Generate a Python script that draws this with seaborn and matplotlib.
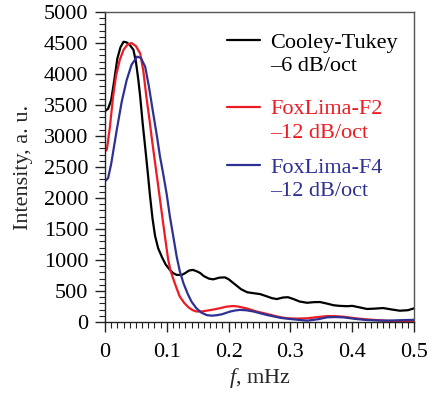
import matplotlib
matplotlib.use("Agg")
import matplotlib.pyplot as plt
import numpy as np
import pandas as pd
import seaborn as sns
from matplotlib.lines import Line2D
from matplotlib.ticker import MultipleLocator, FuncFormatter

# ---- data ----
ct_f = [0.000, 0.005, 0.010, 0.015, 0.020, 0.025, 0.030, 0.035, 0.040, 0.046, 0.050, 0.054,
        0.057, 0.061, 0.065, 0.069, 0.073, 0.077, 0.081, 0.086, 0.092, 0.098, 0.105, 0.110,
        0.116, 0.124, 0.130, 0.136, 0.142, 0.148, 0.154, 0.160, 0.168, 0.175, 0.185, 0.194,
        0.200, 0.210, 0.220, 0.230, 0.240, 0.251, 0.260, 0.270, 0.278, 0.288, 0.296, 0.305,
        0.315, 0.327, 0.338, 0.348, 0.360, 0.370, 0.380, 0.392, 0.400, 0.410, 0.424, 0.435,
        0.450, 0.462, 0.477, 0.490, 0.500]
ct_i = [3400, 3440, 3580, 3900, 4250, 4430, 4520, 4510, 4470, 4390, 4200, 3900,
        3630, 3200, 2820, 2430, 2020, 1660, 1390, 1190, 1050, 930, 840, 790,
        760, 758, 790, 830, 840, 820, 790, 740, 700, 688, 715, 720,
        690, 610, 530, 480, 465, 450, 420, 385, 370, 395, 400, 370,
        330, 310, 320, 322, 295, 270, 260, 255, 260, 240, 210, 215,
        225, 205, 182, 190, 220]

f2_f = [0.000, 0.003, 0.008, 0.013, 0.018, 0.024, 0.030, 0.036, 0.043, 0.050, 0.057, 0.062,
        0.067, 0.072, 0.076, 0.081, 0.086, 0.092, 0.097, 0.102, 0.106, 0.111, 0.116, 0.121,
        0.128, 0.135, 0.142, 0.148, 0.155, 0.165, 0.175, 0.185, 0.195, 0.207, 0.215, 0.229,
        0.245, 0.262, 0.280, 0.294, 0.310, 0.327, 0.345, 0.359, 0.372, 0.386, 0.405, 0.423,
        0.440, 0.456, 0.475, 0.490, 0.500]
f2_i = [2750, 2780, 3150, 3630, 3980, 4230, 4390, 4470, 4500, 4450, 4330, 4050,
        3630, 3260, 2940, 2570, 2200, 1750, 1380, 1020, 830, 680, 540, 410,
        310, 237, 190, 170, 168, 183, 200, 220, 245, 258, 250, 220,
        170, 130, 85, 60, 55, 60, 80, 95, 95, 85, 60, 43,
        30, 20, 10, 3, 0]

f4_f = [0.000, 0.005, 0.010, 0.019, 0.027, 0.035, 0.043, 0.052, 0.058, 0.065, 0.071, 0.078,
        0.084, 0.089, 0.094, 0.100, 0.105, 0.111, 0.116, 0.121, 0.127, 0.134, 0.140, 0.148,
        0.156, 0.165, 0.173, 0.181, 0.189, 0.202, 0.210, 0.218, 0.228, 0.240, 0.262, 0.285,
        0.305, 0.327, 0.345, 0.359, 0.372, 0.386, 0.405, 0.423, 0.440, 0.456, 0.475, 0.500]
f4_i = [2270, 2320, 2550, 3097, 3550, 3900, 4150, 4280, 4260, 4118, 3800, 3366,
        3000, 2667, 2400, 2050, 1700, 1350, 1054, 820, 624, 450, 328, 220,
        151, 110, 102, 110, 124, 167, 185, 195, 190, 170, 113, 65,
        43, 21, 45, 75, 80, 75, 50, 32, 25, 22, 28, 35]

series_names = ["Cooley-Tukey", "FoxLima-F2", "FoxLima-F4"]
series_notes = ["\u20136 dB/oct", "\u201312 dB/oct", "\u201312 dB/oct"]
series_colors = ["#000000", "#ed1c24", "#2e3192"]

x_ticks = [0, 0.1, 0.2, 0.3, 0.4, 0.5]
y_ticks = [0, 500, 1000, 1500, 2000, 2500, 3000, 3500, 4000, 4500, 5000]

# ---- build table ----
df = pd.concat([
    pd.DataFrame({"f": ct_f, "I": ct_i, "series": series_names[0]}),
    pd.DataFrame({"f": f2_f, "I": f2_i, "series": series_names[1]}),
    pd.DataFrame({"f": f4_f, "I": f4_i, "series": series_names[2]}),
], ignore_index=True)

sns.set_theme(style="white")
plt.rcParams["font.family"] = ["Liberation Serif", "DejaVu Serif"]
plt.rcParams["mathtext.fontset"] = "custom"
plt.rcParams["mathtext.it"] = "Liberation Serif:italic"
plt.rcParams["mathtext.rm"] = "Liberation Serif"

FS = 16
fig = plt.figure(figsize=(4.31, 3.97), dpi=100)
ax = fig.add_axes([105 / 431, 1 - 322 / 397, 309 / 431, 310 / 397])

sns.lineplot(data=df, x="f", y="I", hue="series", hue_order=series_names,
             palette=dict(zip(series_names, series_colors)), estimator=None,
             sort=False, lw=1.6, legend=False, ax=ax)

ax.set_xlim(0, 0.5)
ax.set_ylim(0, 5000)
ax.set_xticks(x_ticks)
ax.set_yticks(y_ticks)
ax.xaxis.set_minor_locator(MultipleLocator(0.01))
ax.yaxis.set_minor_locator(MultipleLocator(100))
ax.xaxis.set_major_formatter(FuncFormatter(lambda v, p: "%g" % round(v, 3)))
ax.yaxis.set_major_formatter(FuncFormatter(lambda v, p: "%d" % v))
ax.tick_params(which="both", direction="out", bottom=True, left=True, top=False, right=False,
               colors="#222222", labelcolor="black")
ax.tick_params(which="major", length=7, width=1.0, labelsize=FS)
ax.tick_params(axis="y", which="major", pad=5)
ax.tick_params(axis="x", which="major", pad=8)
ax.tick_params(which="minor", length=4.5, width=0.8)
for s in ["left", "bottom"]:
    ax.spines[s].set_color("#222222")
    ax.spines[s].set_linewidth(1.0)
for s in ["top", "right"]:
    ax.spines[s].set_color("#555555")
    ax.spines[s].set_linewidth(1.0)

ax.set_xlabel("$f$, mHz", fontsize=FS, labelpad=3)
ax.set_ylabel("Intensity, a. u.", fontsize=FS, labelpad=8)

# ---- legend: three groups ----
tops = [0.935, 0.72, 0.53]
legs = []
for name, note, c, y0 in zip(series_names, series_notes, series_colors, tops):
    h = [Line2D([], [], color=c, lw=1.6), Line2D([], [], color="none")]
    lg = ax.legend(h, [name, note], loc="upper left", bbox_to_anchor=(0.395, y0),
                   frameon=False, fontsize=FS, handlelength=1.5, handletextpad=0.45,
                   labelspacing=0.12, borderpad=0, borderaxespad=0, labelcolor=[c, c])
    legs.append(lg)
for lg in legs[:-1]:
    ax.add_artist(lg)

fig.savefig("out.png", dpi=100)
